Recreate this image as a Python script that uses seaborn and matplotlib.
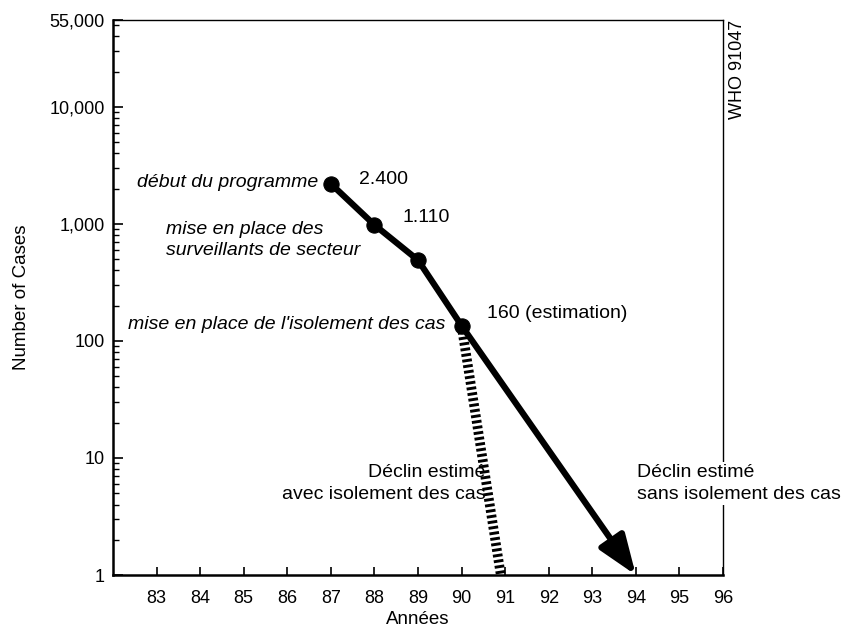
import numpy as np
import pandas as pd
import seaborn as sns
import matplotlib.pyplot as plt
from matplotlib.ticker import FixedLocator, LogLocator, NullFormatter

# observed cases
years = [87, 88, 89, 90]
cases = [2200, 980, 490, 135]
point_labels = ['2.400', '1.110', '', '160 (estimation)']

# projected declines
decline_without_years = [90, 94]
decline_without_cases = [135, 1]
decline_with_years = [90, 90.9]
decline_with_cases = [135, 1]

x_ticks = list(range(83, 97))
y_ticks = [1, 10, 100, 1000, 10000, 55000]
y_tick_labels = ['1', '10', '100', '1,000', '10,000', '55,000']

sns.set_style('ticks')
plt.rcParams['font.family'] = ['Liberation Sans', 'DejaVu Sans']
plt.rcParams['text.color'] = 'black'
plt.rcParams['axes.labelcolor'] = 'black'
plt.rcParams['xtick.color'] = 'black'
plt.rcParams['ytick.color'] = 'black'
plt.rcParams['axes.edgecolor'] = 'black'

df = pd.DataFrame({'year': years, 'cases': cases})

fig = plt.figure(figsize=(8.46, 6.3), dpi=100)
ax = fig.add_axes([0.1336, 0.0873, 0.721, 0.8807])

# hatched line: decline with case isolation
ax.plot(decline_with_years, decline_with_cases, color='black', lw=7,
        dashes=(0.3, 0.28), dash_capstyle='butt', zorder=2)

# arrow: decline without case isolation
ax.annotate('', xy=(decline_without_years[1], decline_without_cases[1]),
            xytext=(decline_without_years[0], decline_without_cases[0]),
            arrowprops=dict(arrowstyle='-|>,head_length=2.4,head_width=0.9',
                            color='black', lw=4.5, shrinkA=0, shrinkB=0),
            zorder=3)

sns.lineplot(data=df, x='year', y='cases', color='black', lw=4.5,
             marker='o', markersize=11, markeredgecolor='black', ax=ax, zorder=4)

ax.set_yscale('log')
ax.set_xlim(82, 96)
ax.set_ylim(1, 55000)
ax.yaxis.set_major_locator(FixedLocator(y_ticks))
ax.set_yticklabels(y_tick_labels)
ax.yaxis.set_minor_locator(LogLocator(base=10, subs=np.arange(2, 10)))
ax.yaxis.set_minor_formatter(NullFormatter())
ax.set_xticks(x_ticks)
ax.set_xticklabels([str(t) for t in x_ticks])

ax.tick_params(axis='both', which='major', direction='in', length=7, width=1.2,
               labelsize=13, pad=6)
ax.tick_params(axis='y', which='minor', direction='in', length=4, width=1)
ax.tick_params(axis='x', which='major', length=6, pad=11)
for side in ['left', 'bottom']:
    ax.spines[side].set_linewidth(1.8)
for side in ['top', 'right']:
    ax.spines[side].set_linewidth(1.0)

ax.set_xlabel('Années', fontsize=13.5, labelpad=3)
ax.set_ylabel('Number of Cases', fontsize=13.5, labelpad=14)

# value labels next to the points
offsets = [(20, 3), (20, 5), (0, 0), (18, 9)]
for x, y, lab, off in zip(years, cases, point_labels, offsets):
    if lab:
        ax.annotate(lab, (x, y), xytext=off, textcoords='offset points',
                    fontsize=14, ha='left', va='center')

# milestones
ax.annotate('début du programme', (years[0], cases[0]), xytext=(-9, 1),
            textcoords='offset points', ha='right', va='center',
            fontsize=14, style='italic')
ax.annotate('mise en place des\nsurveillants de secteur', (years[1], cases[1]),
            xytext=(-150, -11), textcoords='offset points', ha='left', va='center',
            fontsize=14, style='italic', linespacing=1.3)
ax.annotate("mise en place de l'isolement des cas", (years[3], cases[3]),
            xytext=(-12, 1), textcoords='offset points', ha='right', va='center',
            fontsize=14, style='italic')

ax.annotate('Déclin estimé\navec isolement des cas',
            (decline_with_years[1], decline_with_cases[1]), xytext=(-11, 66),
            textcoords='offset points', ha='right', va='center',
            fontsize=14, multialignment='right', linespacing=1.35)
ax.annotate('Déclin estimé\nsans isolement des cas',
            (decline_without_years[1], decline_without_cases[1]), xytext=(1, 66),
            textcoords='offset points', ha='left', va='center',
            fontsize=14, multialignment='left', linespacing=1.35,
            annotation_clip=False,
            bbox=dict(boxstyle='square,pad=0.1', fc='white', ec='none'))

fig.text(0.872, 0.968, 'WHO 91047', rotation=90, ha='center', va='top', fontsize=13)

fig.savefig('out.png', dpi=100)
